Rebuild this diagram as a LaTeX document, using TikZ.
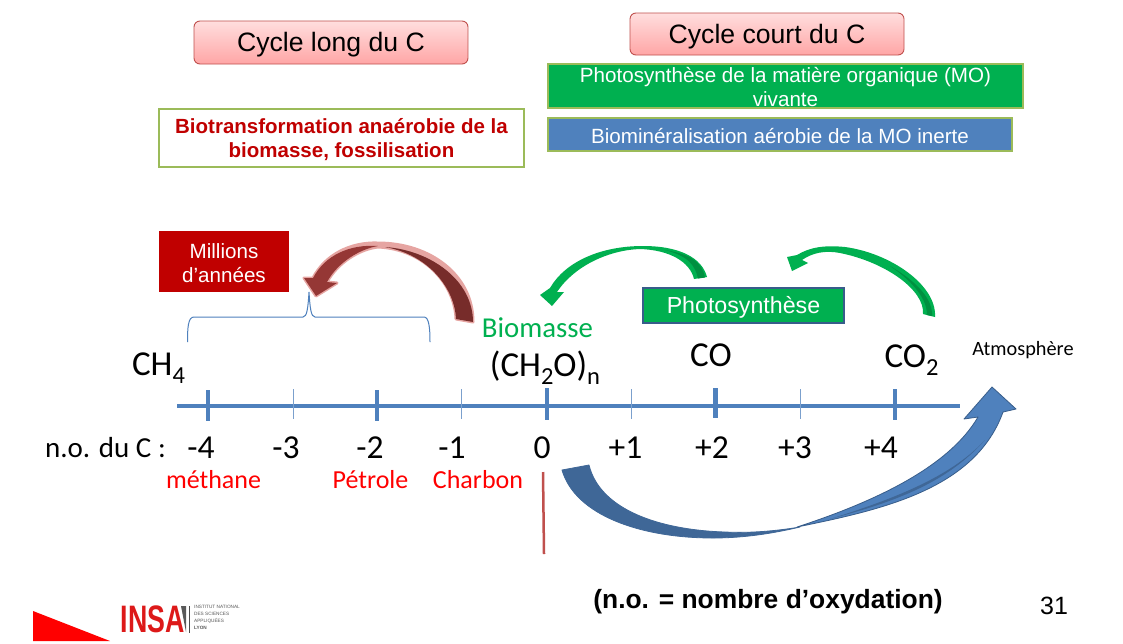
\documentclass[tikz,border=0pt]{standalone}
\usepackage{fontspec}
\setmainfont{Liberation Sans}
\newfontfamily\calfont{Carlito}
\usetikzlibrary{shadings}
\definecolor{cblue}{HTML}{4F81BD}
\definecolor{cbluedk}{HTML}{3F6797}
\definecolor{cblueln}{HTML}{385D8A}
\definecolor{cgreen}{HTML}{00B050}
\definecolor{cgreendk}{HTML}{009040}
\definecolor{credd}{HTML}{C00000}
\definecolor{cbord}{HTML}{9BBB59}
\definecolor{cpink}{HTML}{E6A5A2}
\definecolor{cmar}{HTML}{953735}
\definecolor{cmardk}{HTML}{772C2A}
\definecolor{cline}{HTML}{C0504D}
\newcommand{\sbs}[1]{\raisebox{-0.25em}{\scalebox{0.7}{#1}}}
\tikzset{
  pill/.style={rounded corners=6pt,draw=cline,line width=0.9pt,top color=red!13,bottom color=red!35,inner sep=0pt},
  ptext/.style={font=\fontsize{26.6}{30}\selectfont,text=black},
  flat/.style={draw=cbord,line width=1.2pt,inner sep=0pt},
  wtext/.style={text=white,align=center,font=\fontsize{20.6}{24.5}\selectfont},
  chem/.style={anchor=base,font=\calfont\fontsize{35}{38}\selectfont,text=black,inner sep=0pt},
  num/.style={anchor=base,font=\calfont\fontsize{33.5}{36}\selectfont,text=black,inner sep=0pt},
  redlab/.style={anchor=base,font=\calfont\fontsize{26}{30}\selectfont,text=red,inner sep=0pt},
  majortick/.style={draw=cblue,line width=4.5pt},
  minortick/.style={draw=cblue!75,line width=1pt},
  brace/.style={draw=cblue,line width=1pt},
}
\begin{document}
\begin{tikzpicture}[x=1pt,y=-1pt]
\useasboundingbox (0,0) rectangle (1123,643);
\fill[white] (0,0) rectangle (1123,643);

% top boxes
\path[pill] (194,21) rectangle (468,64);
\node[ptext] (long) at (331,44.5) {Cycle long du C};
\path[pill] (630,13) rectangle (904,55);
\node[ptext] (court) at (767,36.5) {Cycle court du C};
\path[flat,fill=cgreen] (548,64) rectangle (1023,108);
\node[wtext] (photoMO) at (785.5,87) {Photosynthèse de la matière organique (MO)\\vivante};
\path[flat,fill=cblue] (548,118) rectangle (1012,151);
\node[wtext] (biomin) at (780,136) {Biominéralisation aérobie de la MO inerte};
\path[flat,fill=white] (159,109) rectangle (524,167);
\node[align=center,text=credd,font=\bfseries\fontsize{20.5}{24}\selectfont] (biot) at (341.5,140) {Biotransformation anaérobie de la\\biomasse, fossilisation};

% millions
\fill[credd] (159,231) rectangle (289,292);
\node[align=center,text=white,font=\fontsize{20.6}{24}\selectfont] (mill) at (224,263) {Millions\\d’années};

% brace
\draw[brace] (187.5,342) .. controls (187.5,328) and (188,317) .. (194,317) -- (303,317)
  .. controls (307,317) and (308,308) .. (309,292)
  .. controls (310,308) and (311,317) .. (315,317) -- (424,317)
  .. controls (429,317) and (430,328) .. (430,342);

% red curved arrow
\begin{scope}[line join=round]
\draw[cpink,line width=3pt,fill=cpink]
  (456,319) .. controls (455,285) and (425,249) .. (378,247)
  .. controls (360,249) and (338,262) .. (327,282)
  -- (337,283) -- (316,296) -- (304,278) -- (313,278)
  .. controls (325,255) and (350,242) .. (378,243)
  .. controls (430,243) and (473,275) .. (473,322) -- cycle;
\fill[cmar]
  (378,246) .. controls (360,249) and (338,262) .. (327,282)
  -- (337,283) -- (316,296) -- (304,278) -- (313,278)
  .. controls (325,255) and (350,244) .. (378,246) -- cycle;
\fill[cmardk]
  (456,319) .. controls (455,290) and (430,255) .. (385,247)
  .. controls (430,250) and (473,280) .. (473,322) -- cycle;
\end{scope}

% green arrow 1
\fill[cgreen]
  (694,279) .. controls (690,262) and (670,250) .. (640,249)
  .. controls (610,250) and (575,265) .. (557,292)
  -- (564,292) -- (552,306) -- (540,295) -- (550,288)
  .. controls (565,262) and (600,246) .. (643,246)
  .. controls (680,246) and (702,258) .. (707,277) -- cycle;
\fill[cgreendk]
  (698,278.5) .. controls (695,265) and (688,256) .. (665,250)
  .. controls (690,254) and (702,262) .. (705,277.5) -- cycle;

% green arrow 2
\fill[cgreen]
  (923,314) .. controls (925,290) and (885,262) .. (840,253)
  .. controls (825,250) and (812,253) .. (802,260)
  -- (808,263) -- (792,271) -- (787,257) -- (797,255)
  .. controls (810,247) and (825,245) .. (845,247)
  .. controls (890,253) and (937,285) .. (935,317) -- cycle;
\fill[cgreendk]
  (927,315) .. controls (927,300) and (915,283) .. (890,266)
  .. controls (918,282) and (933,300) .. (932,316) -- cycle;

% blue curved arrow
\begin{scope}[line join=round]
\draw[cbluedk,line width=0.8pt,fill=cbluedk]
  (562,470) .. controls (575,515) and (640,538) .. (713,538)
  .. controls (745,538) and (775,533) .. (800,527)
  .. controls (770,532) and (745,533) .. (725,532)
  .. controls (660,530) and (600,510) .. (589,465) -- cycle;
\draw[cblueln,line width=0.8pt,fill=cblue]
  (797,527) .. controls (880,510) and (975,490) .. (1003,412)
  -- (1016,409) -- (992,387) -- (964,419) -- (978,417)
  .. controls (950,465) and (880,500) .. (797,527) -- cycle;
\fill[cbluedk]
  (830,519) .. controls (890,503) and (945,485) .. (985,440)
  .. controls (950,478) and (890,500) .. (830,519) -- cycle;
\end{scope}

% axis
\coordinate (axL) at (177,406);
\coordinate (axR) at (960,406);
\draw[cblue,line width=3.5pt] (axL) -- (axR);
\foreach \x/\a/\b in {208/390/421,377/390/421,547/388/419.5,715.5/388/418,895/389/420}
  \draw[majortick] (\x,\a) -- (\x,\b);
\foreach \x in {293,461.5,631,800}
  \draw[minortick] (\x,389) -- (\x,419);

% photosynthese
\draw[draw=cblueln,line width=2pt,fill=cgreen] (643,288) rectangle (844,323);
\node[text=white,font=\fontsize{23.2}{26}\selectfont] (phot) at (743.5,307.5) {Photosynthèse};

% chem labels
\node[chem] (ch4) at (158.5,375) {CH\sbs{4}};
\node[chem] (ch2o) at (545,376) {(CH\sbs{2}O)\sbs{n}};
\node[chem] (co) at (711,366) {CO};
\node[chem] (co2) at (911.5,367) {CO\sbs{2}};
\node[anchor=base,font=\calfont\fontsize{28.8}{30}\selectfont,text=cgreen,inner sep=0pt] (bio) at (537.5,337) {Biomasse};
\node[anchor=base,font=\calfont\fontsize{20.3}{22}\selectfont,text=black,inner sep=0pt] (atm) at (1023,355) {Atmosphère};

% numbers
\node[anchor=base,font=\calfont\fontsize{29}{30}\selectfont,text=black,inner sep=0pt] (no) at (105.5,457) {n.o. du C :};
\node[num] (m4) at (201,458) {-4};
\node[num] (m3) at (286,458) {-3};
\node[num] (m2) at (370,458) {-2};
\node[num] (m1) at (452,458) {-1};
\node[num] (z) at (542,458) {0};
\node[num] (p1) at (625.5,458) {+1};
\node[num] (p2) at (712,458) {+2};
\node[num] (p3) at (795,458) {+3};
\node[num] (p4) at (881,458) {+4};
\node[redlab] (meth) at (213.5,488) {méthane};
\node[redlab] (petr) at (370.5,488) {Pétrole};
\node[redlab] (charb) at (478,488) {Charbon};

% red vertical line
\coordinate (rA) at (543,472);
\coordinate (rB) at (544,554);
\draw[cline,line width=2.5pt] (rA) -- (rB);

% bottom
\node[font=\bfseries\fontsize{26.4}{28}\selectfont,text=black,inner sep=0pt] (noeq) at (768,602) {(n.o. = nombre d’oxydation)};
\node[font=\fontsize{25}{28}\selectfont,text=black,inner sep=0pt] (pg) at (1054,606) {31};

% logo
\fill[red] (33,611) -- (110,641) -- (33,641) -- cycle;
\node[anchor=west,inner sep=0pt,text=red!85!black!90!white] (insa) at (120.5,619.5)
  {\scalebox{0.81}[1.16]{\bfseries\fontsize{33}{33}\selectfont INSA}};
\fill[black!65] (181,606) -- (186,606) -- (186,632) -- cycle;
\draw[black!70,line width=0.5pt] (189.5,606) -- (189.5,633);
\node[anchor=north west,inner sep=0pt,align=left,text=black!65,font=\fontsize{4.7}{7}\selectfont] (inst) at (194,605)
  {INSTITUT NATIONAL\\DES SCIENCES\\APPLIQUÉES\\\textbf{LYON}};
\end{tikzpicture}
\end{document}
